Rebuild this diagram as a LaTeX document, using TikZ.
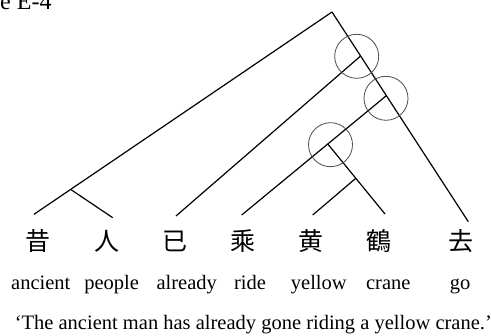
\documentclass[tikz,border=0pt]{standalone}
\usepackage{fontspec}
\setmainfont{Liberation Serif}
\newfontfamily\cjk{Noto Sans CJK JP}
\usetikzlibrary{calc}
\tikzstyle{line} = [draw, line width=1.2pt]
\tikzstyle{ring} = [draw=black!70, line width=0.8pt, circle, minimum size=44pt, inner sep=0pt]
\tikzstyle{hanzi} = [font=\cjk\fontsize{25}{25}\selectfont, anchor=base, inner sep=0pt]
\tikzstyle{gloss} = [font=\fontsize{20.5}{24}\selectfont, anchor=base, inner sep=0pt]

\begin{document}
\begin{tikzpicture}[x=1pt, y=-1pt]
		\useasboundingbox (0,0) rectangle (491,336);
		\node [gloss, anchor=base west, font=\fontsize{24}{24}\selectfont] (fig) at (0,10) {e E-4};

		% characters and glosses
		\node [hanzi] (xi) at (38.3,250.5) {昔};
		\node [hanzi] (ren) at (107,250.5) {人};
		\node [hanzi] (yi) at (175,250.5) {已};
		\node [hanzi] (cheng) at (243,250.5) {乘};
		\node [hanzi] (huang) at (310.7,250.5) {黄};
		\node [hanzi] (he) at (379,250.5) {鶴};
		\node [hanzi] (qu) at (460.7,250.5) {去};
		\node [gloss] (g-xi) at (40.8,289.5) {ancient};
		\node [gloss] (g-ren) at (111.7,289.5) {people};
		\node [gloss] (g-yi) at (186.7,289.5) {already};
		\node [gloss] (g-cheng) at (250,289.5) {ride};
		\node [gloss] (g-huang) at (318.8,289.5) {yellow};
		\node [gloss] (g-he) at (388.3,289.5) {crane};
		\node [gloss] (g-qu) at (460,289.5) {go};
		\node [gloss] (trans) at (253.3,329.5) {‘The ancient man has already gone riding a yellow crane.’};

		% tree
		\coordinate (top) at (332,12);
		\coordinate (end-xi) at (34,214.3);
		\coordinate (end-ren) at (112.7,217.7);
		\coordinate (end-yi) at (176,216);
		\coordinate (end-cheng) at (241.7,215);
		\coordinate (end-huang) at (312.7,215);
		\coordinate (end-he) at (385,214);
		\coordinate (end-qu) at (468.3,221.7);
		\coordinate (np) at ($(top)!0.877!(end-xi)$);
		\coordinate (adv) at ($(top)!0.21!(end-qu)$);
		\coordinate (vp) at ($(top)!0.399!(end-qu)$);
		\coordinate (obj) at ($(vp)!0.405!(end-cheng)$);
		\coordinate (adj) at ($(obj)!0.49!(end-he)$);

		\path [line] (top) -- (end-xi);
		\path [line] (np) -- (end-ren);
		\path [line] (top) -- (end-qu);
		\path [line] (adv) -- (end-yi);
		\path [line] (vp) -- (end-cheng);
		\path [line] (obj) -- (end-he);
		\path [line] (adj) -- (end-huang);

		\node [ring] (c-adv) at (356.7,56.3) {};
		\node [ring] (c-vp) at (386,98.3) {};
		\node [ring] (c-obj) at (330.5,144.7) {};
	\end{tikzpicture}
\end{document}
